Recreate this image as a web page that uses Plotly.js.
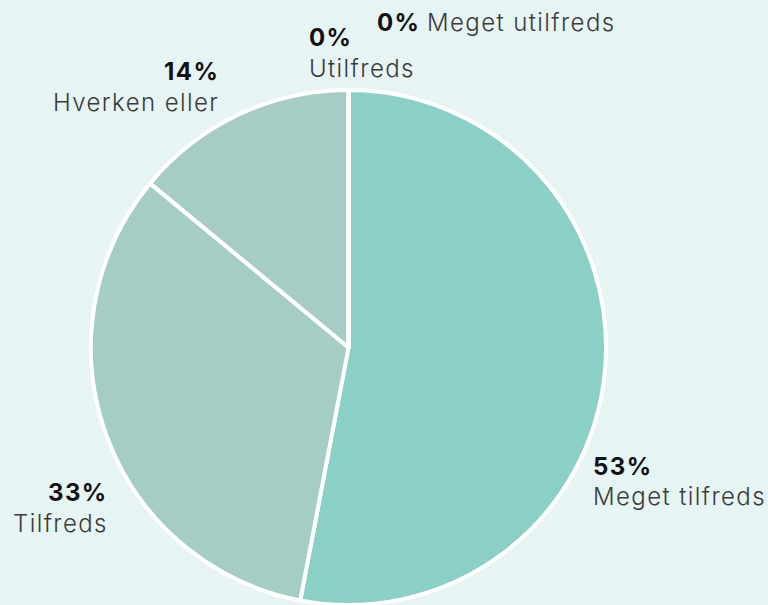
<!DOCTYPE html>
<html><head><meta charset="utf-8">
<script src="https://cdn.plot.ly/plotly-3.0.1.min.js"></script>
<style>html,body{margin:0;padding:0;background:#e6f4f3;}
.annotation-text{letter-spacing:1.4px;}</style>
</head><body>
<div id="chart" style="width:768px;height:605px;"></div>
<script>
const labels = ["Meget tilfreds", "Tilfreds", "Hverken eller", "Utilfreds", "Meget utilfreds"];
const values = [53, 33, 14, 0, 0];
const pctText = ["53%", "33%", "14%", "0%", "0%"];
const colors = ["#8ad0c7", "#a3cdc5", "#a5cdc5", "#a5cdc5", "#a5cdc5"];

// label placement (pixels), layout only
const pos = [
  {x: 591, y: 466, ny: 497, anchor: "left"},
  {x: 110, y: 492, ny: 523, anchor: "right"},
  {x: 221, y: 72,  ny: 102, anchor: "right"},
  {x: 307, y: 37,  ny: 68,  anchor: "left"}
];
const W = 768, H = 605;
const pctFont = {family: "Inter, sans-serif", size: 24, color: "#111", weight: 700};
const nameFont = {family: "Inter, sans-serif", size: 24, color: "#3a3a3a", weight: 300};

const annotations = [];
pos.forEach((p, i) => {
  annotations.push({xref: "paper", yref: "paper", x: p.x / W, y: 1 - p.y / H, xanchor: p.anchor, yanchor: "middle",
    text: "<b>" + pctText[i] + "</b>", showarrow: false, font: pctFont});
  annotations.push({xref: "paper", yref: "paper", x: p.x / W, y: 1 - p.ny / H, xanchor: p.anchor, yanchor: "middle",
    text: labels[i], showarrow: false, font: nameFont});
});
annotations.push({xref: "paper", yref: "paper", x: 375 / W, y: 1 - 22 / H, xanchor: "left", yanchor: "middle",
  text: "<b>" + pctText[4] + "</b>", showarrow: false, font: pctFont});
annotations.push({xref: "paper", yref: "paper", x: 425 / W, y: 1 - 22 / H, xanchor: "left", yanchor: "middle",
  text: labels[4], showarrow: false, font: nameFont});

const trace = {
  type: "pie",
  labels: labels,
  values: values,
  sort: false,
  direction: "clockwise",
  rotation: 0,
  textinfo: "none",
  hoverinfo: "label+percent",
  marker: {colors: colors, line: {color: "#ffffff", width: 4}},
  domain: {x: [91 / W, 606 / W], y: [0, (H - 90) / H]},
  showlegend: false
};

const layout = {
  width: W, height: H,
  margin: {l: 0, r: 0, t: 0, b: 0},
  paper_bgcolor: "#e6f4f3",
  plot_bgcolor: "#e6f4f3",
  showlegend: false,
  annotations: annotations
};
Plotly.newPlot("chart", [trace], layout, {displayModeBar: false, staticPlot: true});
</script>
</body></html>
